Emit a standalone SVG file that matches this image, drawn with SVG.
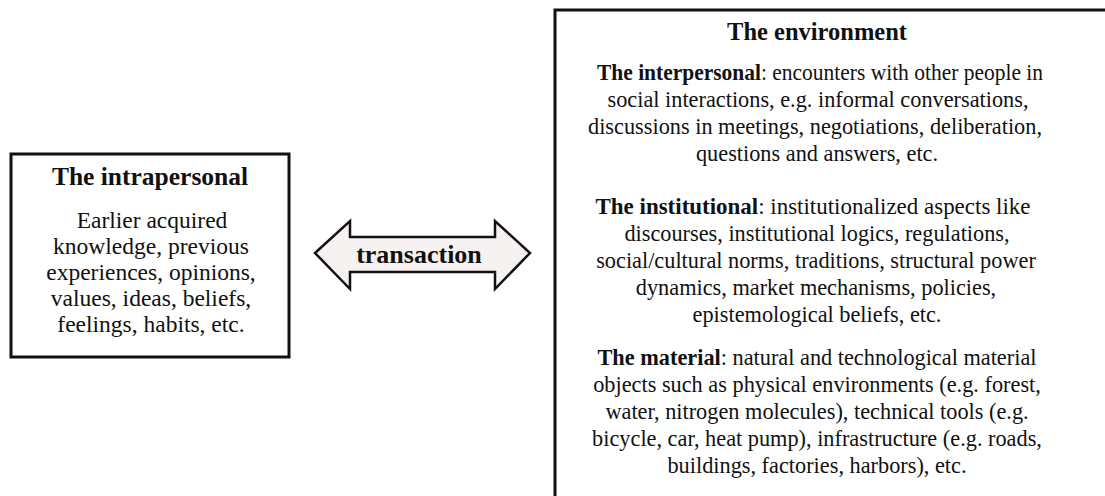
<svg xmlns="http://www.w3.org/2000/svg" width="1105" height="496" viewBox="0 0 1105 496">
<style>
text{font-family:"Liberation Serif","Times New Roman",serif;fill:#111;text-anchor:middle}
.lt{font-size:25.5px;font-weight:bold}
.lb{font-size:23.5px}
.rt{font-size:24.5px;font-weight:bold}
.rb{font-size:22.3px}
.tr{font-size:26px;font-weight:bold}
.h{font-weight:bold}
.box{fill:#fff;stroke:#111;stroke-width:3}
</style>
<rect width="1105" height="496" fill="#fff"/>
<g id="intrapersonal">
<rect class="box" x="11" y="154" width="278" height="203"/>
<text class="lt" x="150" y="185">The intrapersonal</text>
<text class="lb" x="152" y="228">Earlier acquired</text>
<text class="lb" x="151" y="254">knowledge, previous</text>
<text class="lb" x="151" y="280">experiences, opinions,</text>
<text class="lb" x="151" y="306">values, ideas, beliefs,</text>
<text class="lb" x="151" y="332">feelings, habits, etc.</text>
</g>
<g id="connectors">
<polygon points="315,253 350,221 350,237 495,237 495,221 530,253 495,289 495,272 350,272 350,289" fill="#f7f2f2" stroke="#111" stroke-width="2.5" stroke-linejoin="miter"/>
<text class="tr" x="419" y="263">transaction</text>
</g>
<g id="environment">
<rect class="box" x="555" y="10" width="600" height="520"/>
<text class="rt" x="817" y="40">The environment</text>
<text class="rb" x="820" y="80" textLength="446" lengthAdjust="spacingAndGlyphs"><tspan class="h">The interpersonal</tspan>: encounters with other people in</text>
<text class="rb" x="818" y="107">social interactions, e.g. informal conversations,</text>
<text class="rb" x="815" y="134">discussions in meetings, negotiations, deliberation,</text>
<text class="rb" x="817" y="161">questions and answers, etc.</text>
<text class="rb" x="813" y="214" textLength="435" lengthAdjust="spacingAndGlyphs"><tspan class="h">The institutional</tspan>: institutionalized aspects like</text>
<text class="rb" x="817" y="241">discourses, institutional logics, regulations,</text>
<text class="rb" x="816" y="268">social/cultural norms, traditions, structural power</text>
<text class="rb" x="816" y="295">dynamics, market mechanisms, policies,</text>
<text class="rb" x="817" y="322">epistemological beliefs, etc.</text>
<text class="rb" x="817" y="365"><tspan class="h">The material</tspan>: natural and technological material</text>
<text class="rb" x="817" y="392">objects such as physical environments (e.g. forest,</text>
<text class="rb" x="817" y="419">water, nitrogen molecules), technical tools (e.g.</text>
<text class="rb" x="817" y="446">bicycle, car, heat pump), infrastructure (e.g. roads,</text>
<text class="rb" x="817" y="473">buildings, factories, harbors), etc.</text>
</g>
</svg>
